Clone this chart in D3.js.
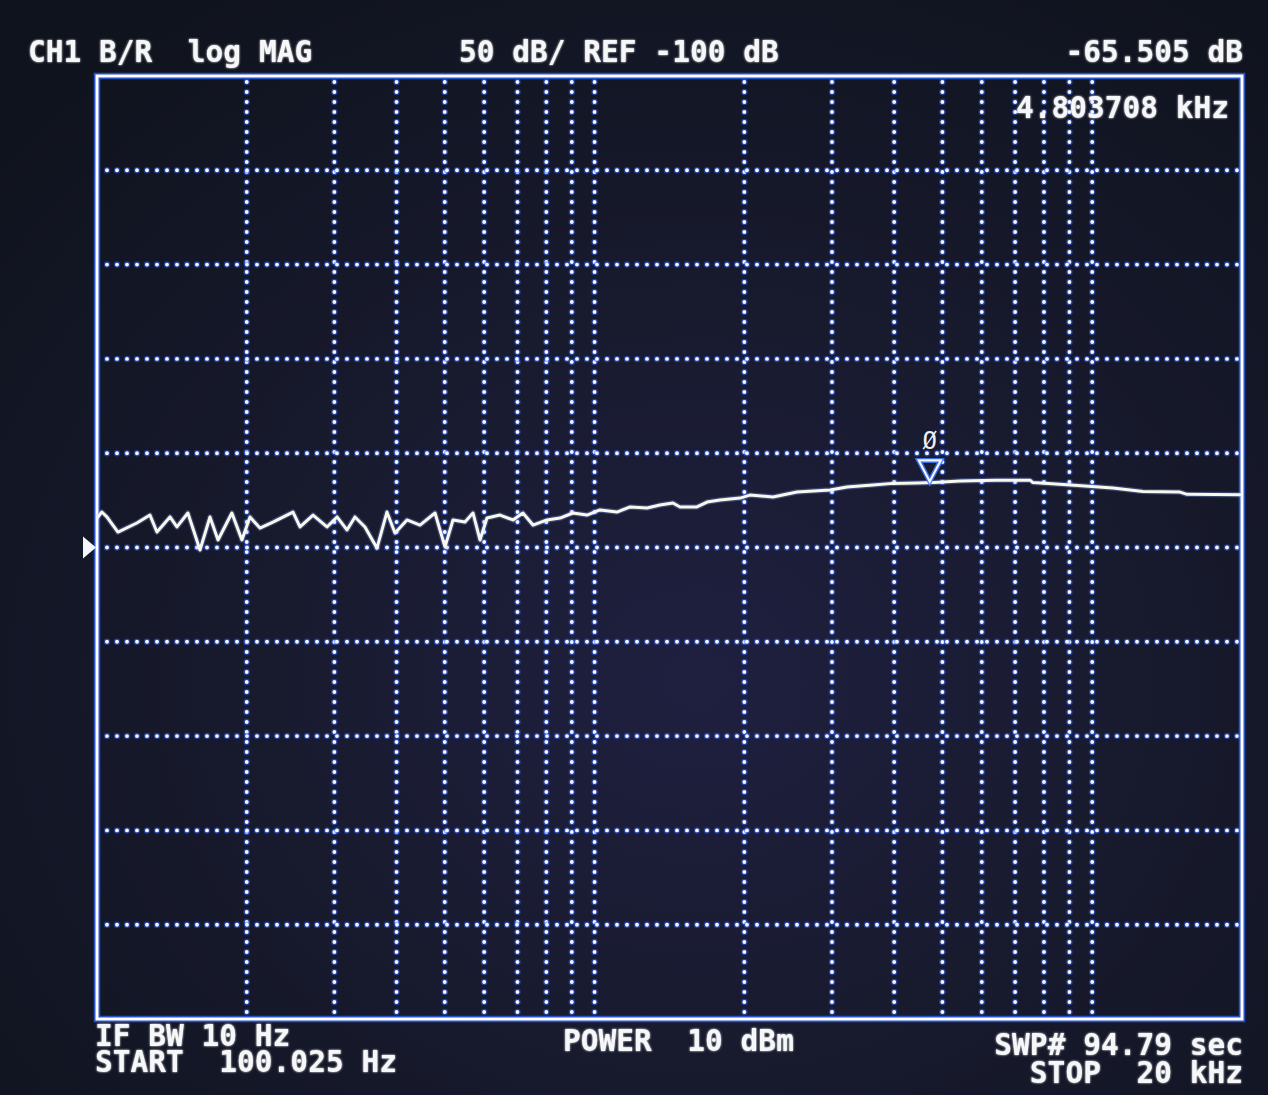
<!DOCTYPE html>
<html><head><meta charset="utf-8">
<script src="https://cdn.jsdelivr.net/npm/d3@7"></script>
<style>html,body{margin:0;padding:0;background:#131826;} svg{display:block}</style>
</head><body>
<svg id="c" width="1268" height="1095"></svg>
<script>
// ---- data ----
const startHz = 100.025, stopHz = 20000;
const refDb = -100, dbPerDiv = 50, divisions = 10;
const gridFreqs = [200,300,400,500,600,700,800,900,1000,2000,3000,4000,5000,6000,7000,8000,9000,10000];
const gridDb = [100, 50, 0, -50, -100, -150, -200, -250, -300];
const freqHz = [100.025,102.3,104.7,110.2,120.3,127.8,132.0,140.2,144.8,152.3,161.1,168.7,175.1,186.7,195.6,203.0,212.6,225.8,247.7,255.9,271.8,289.9,303.7,318,330,345.6,365.3,382.6,397.1,419.8,445.8,477.9,500.5,519.4,549.0,569.7,588.5,607.8,645.5,685.5,717.9,752.0,802.3,852.0,904.8,965.5,1025,1109,1179,1275,1353,1437,1485,1606,1683,1787,1960,2052,2284,2551,2972,3216,3626,3978,4445,4804,5424,6400,7499,7603,8900,11012,12653,15016,15508,20000];
const magDb = [-84.4,-81.2,-83.8,-91.8,-87.0,-82.8,-91.8,-83.8,-89.1,-81.7,-101.3,-83.8,-96.0,-81.7,-96.0,-83.8,-89.7,-86.5,-81.2,-89.1,-82.8,-89.1,-83.8,-90.7,-83.8,-89.1,-100.3,-81.2,-92.3,-85.4,-88.1,-81.7,-99.7,-85.4,-86.5,-81.7,-96.0,-84.4,-82.8,-85.4,-81.7,-88.1,-85.4,-84.4,-81.7,-82.8,-80.1,-81.2,-78.5,-79.1,-77.5,-76.4,-78.5,-78.5,-75.9,-74.8,-73.8,-72.2,-73.2,-70.6,-69.5,-67.9,-66.9,-66.0,-65.8,-65.5,-64.8,-64.3,-64.3,-65.6,-66.7,-68.4,-70.3,-70.6,-71.8,-72.0];
const markerHz = 4803.708, markerDb = -65.505, markerLabel = "Ø";
const textTopLeft = "CH1 B/R  log MAG";
const textTopMid = "50 dB/ REF -100 dB";
const textTopRight = "-65.505 dB";
const textMarker = "4.803708 kHz";
const textBottom = [
  {t:"IF BW 10 Hz", x:95, y:1046, a:"start"},
  {t:"START  100.025 Hz", x:95, y:1072, a:"start"},
  {t:"POWER  10 dBm", x:563, y:1051, a:"start"},
  {t:"SWP# 94.79 sec", x:1243, y:1055, a:"end"},
  {t:"STOP  20 kHz", x:1243, y:1083, a:"end"}
];

// ---- layout ----
const W = 1268, H = 1095;
const L = 97, R = 1242, T = 76, B = 1019;
const svg = d3.select("#c");
const defs = svg.append("defs");
const rg = defs.append("radialGradient").attr("id","bg").attr("cx","0.55").attr("cy","0.62").attr("r","0.75");
rg.append("stop").attr("offset","0").attr("stop-color","#1f2040");
rg.append("stop").attr("offset","0.45").attr("stop-color","#181a2e");
rg.append("stop").attr("offset","1").attr("stop-color","#0f131d");
svg.append("rect").attr("width",W).attr("height",H).attr("fill","url(#bg)");
const glow = defs.append("filter").attr("id","glow").attr("x","-5%").attr("y","-20%").attr("width","110%").attr("height","140%");
glow.append("feGaussianBlur").attr("stdDeviation","1.0").attr("result","b");
const fm = glow.append("feMerge"); fm.append("feMergeNode").attr("in","b"); fm.append("feMergeNode").attr("in","SourceGraphic");

const x = d3.scaleLog().domain([startHz, stopHz]).range([L, R]);
const y = d3.scaleLinear().domain([refDb - dbPerDiv*divisions/2, refDb + dbPerDiv*divisions/2]).range([B, T]);

// grid
const g = svg.append("g");
function dotted(sel){
  sel.clone().attr("stroke","#2f63ff").attr("stroke-width",6.5).attr("stroke-opacity",0.5)
     .attr("stroke-dasharray","0 10").attr("stroke-linecap","round");
  sel.attr("stroke","#f2f6ff").attr("stroke-width",3.9).attr("stroke-dasharray","0 10").attr("stroke-linecap","round").raise();
}
g.selectAll("line.v").data(gridFreqs).join("line").attr("class","v")
  .attr("x1",d=>x(d)).attr("x2",d=>x(d)).attr("y1",T+6).attr("y2",B-3)
  .each(function(){ dotted(d3.select(this)); });
g.selectAll("line.h").data(gridDb).join("line").attr("class","h")
  .attr("x1",L+10).attr("x2",R-3).attr("y1",d=>y(d)).attr("y2",d=>y(d))
  .each(function(){ dotted(d3.select(this)); });

// frame
svg.append("rect").attr("x",L).attr("y",T).attr("width",R-L).attr("height",B-T)
  .attr("fill","none").attr("stroke","#2f66ff").attr("stroke-width",6.5).attr("stroke-opacity",0.75);
svg.append("rect").attr("x",L).attr("y",T).attr("width",R-L).attr("height",B-T)
  .attr("fill","none").attr("stroke","#ffffff").attr("stroke-width",3);

// reference position triangle
const ry = y(refDb);
svg.append("path").attr("d",`M${L-14},${ry-11}L${L-1},${ry}L${L-14},${ry+11}Z`).attr("fill","#f4f6fb");

// trace
const pts = freqHz.map((f,i)=>({f, m:magDb[i]}));
const line = d3.line().x(d=>x(d.f)).y(d=>y(d.m));
svg.append("path").datum(pts).attr("d",line).attr("fill","none")
  .attr("stroke","#8faaff").attr("stroke-opacity",0.3).attr("stroke-width",5.5).attr("stroke-linejoin","round");
svg.append("path").datum(pts).attr("d",line).attr("fill","none")
  .attr("stroke","#f8f8ee").attr("stroke-width",3).attr("stroke-linejoin","round");

// marker
const mx = x(markerHz) - 4, my = y(markerDb);
svg.append("path").attr("d",`M${mx-11},${my-22}L${mx+11},${my-22}L${mx},${my-1}Z`)
  .attr("fill","none").attr("stroke","#3f7bff").attr("stroke-width",5).attr("stroke-opacity",0.85);
svg.append("path").attr("d",`M${mx-11},${my-22}L${mx+11},${my-22}L${mx},${my-1}Z`)
  .attr("fill","none").attr("stroke","#f4f6ff").attr("stroke-width",2.2);
svg.append("text").attr("x",mx).attr("y",my-33).attr("text-anchor","middle")
  .attr("font-family","'DejaVu Sans Mono', monospace").attr("font-size",24)
  .attr("fill","#eef0f6").text(markerLabel);

// texts
const tf = t => t.attr("font-family","'DejaVu Sans Mono', monospace").attr("font-weight","bold")
  .attr("font-size",29.5).attr("fill","#f6f7f8").attr("filter","url(#glow)").style("white-space","pre");
tf(svg.append("text").attr("x",28).attr("y",62).text(textTopLeft));
tf(svg.append("text").attr("x",459).attr("y",62).text(textTopMid));
tf(svg.append("text").attr("x",1243).attr("y",62).attr("text-anchor","end").text(textTopRight));
tf(svg.append("text").attr("x",1016).attr("y",118).text(textMarker));
textBottom.forEach(d=>tf(svg.append("text").attr("x",d.x).attr("y",d.y).attr("text-anchor",d.a).text(d.t)));
</script>
</body></html>
